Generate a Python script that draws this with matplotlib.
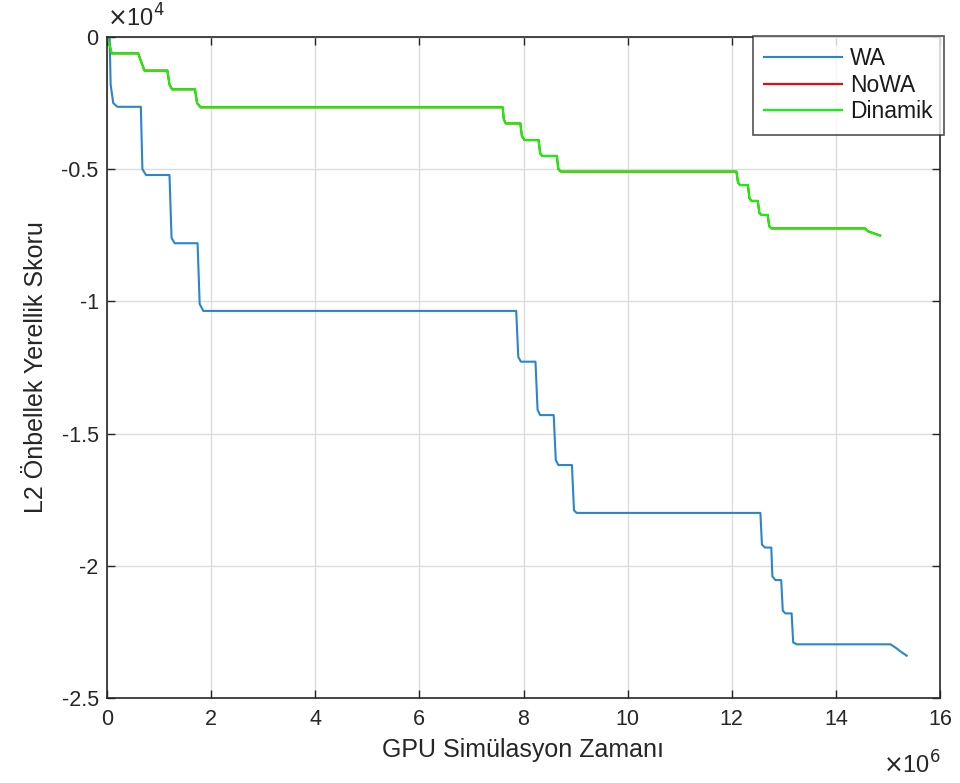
import numpy as np
import matplotlib
matplotlib.use('Agg')
import matplotlib.pyplot as plt
from matplotlib.ticker import FuncFormatter

# step curves: x in units of 1e6, y in units of 1e4
wa_x = [0, 0.05, 0.07, 0.12, 0.20, 0.65, 0.68, 0.75, 1.20, 1.24, 1.30, 1.74, 1.78, 1.85,
        7.86, 7.90, 7.95, 8.23, 8.27, 8.32, 8.58, 8.62, 8.67, 8.93, 8.97, 9.02,
        12.55, 12.58, 12.64, 12.76, 12.78, 12.84, 12.95, 12.98, 13.03, 13.15, 13.18, 13.25,
        15.05, 15.15, 15.25, 15.36]
wa_y = [0, 0, -0.18, -0.25, -0.264, -0.264, -0.50, -0.522, -0.522, -0.76, -0.78, -0.78, -1.01, -1.036,
        -1.036, -1.21, -1.228, -1.228, -1.41, -1.43, -1.43, -1.60, -1.619, -1.619, -1.79, -1.80,
        -1.80, -1.92, -1.931, -1.931, -2.04, -2.054, -2.054, -2.17, -2.18, -2.18, -2.29, -2.297,
        -2.297, -2.31, -2.325, -2.34]

din_x = [0, 0.05, 0.09, 0.60, 0.65, 0.72, 1.16, 1.20, 1.25, 1.69, 1.73, 1.80,
         7.60, 7.62, 7.66, 7.94, 7.97, 8.02, 8.29, 8.32, 8.36, 8.64, 8.67, 8.72,
         12.09, 12.12, 12.16, 12.31, 12.34, 12.38, 12.50, 12.53, 12.57, 12.69, 12.72, 12.76,
         14.56, 14.62, 14.72, 14.85]
din_y = [0, -0.03, -0.062, -0.062, -0.09, -0.127, -0.127, -0.18, -0.198, -0.198, -0.25, -0.266,
         -0.266, -0.31, -0.327, -0.327, -0.375, -0.39, -0.39, -0.44, -0.45, -0.45, -0.50, -0.509,
         -0.509, -0.55, -0.56, -0.56, -0.61, -0.62, -0.62, -0.665, -0.673, -0.673, -0.715, -0.724,
         -0.724, -0.735, -0.742, -0.751]

# NoWA is hidden under the Dinamik curve
nowa_x = list(din_x)
nowa_y = list(din_y)

x_ticks = [0, 2, 4, 6, 8, 10, 12, 14, 16]
y_ticks = [-2.5, -2, -1.5, -1, -0.5, 0]

plt.rcParams['font.family'] = ['Liberation Sans', 'DejaVu Sans']

fig = plt.figure(figsize=(9.6, 7.83), dpi=100)
ax = fig.add_axes([107 / 960, 1 - 698 / 783, (940 - 107) / 960, (698 - 37) / 783])

xs = 1e6
ys = 1e4
ax.plot(np.array(wa_x) * xs, np.array(wa_y) * ys, color='#2a86cc', lw=1.5, label='WA')
ax.plot(np.array(nowa_x) * xs, np.array(nowa_y) * ys, color='#FF0000', lw=1.5, label='NoWA')
ax.plot(np.array(din_x) * xs, np.array(din_y) * ys, color='#00FF00', lw=1.5, label='Dinamik')

ax.set_xlim(0, 16e6)
ax.set_ylim(-2.5e4, 0)
ax.set_xticks([t * xs for t in x_ticks])
ax.set_yticks([t * ys for t in y_ticks])
ax.xaxis.set_major_formatter(FuncFormatter(lambda v, p: '%g' % (v / xs)))
ax.yaxis.set_major_formatter(FuncFormatter(lambda v, p: '%g' % (v / ys)))

axc = '#262626'
for s in ax.spines.values():
    s.set_color(axc)
    s.set_linewidth(1.2)
ax.tick_params(direction='in', length=6, width=1, colors=axc, labelsize=15.5,
               top=True, right=True, pad=8)
ax.tick_params(axis='y', pad=6)
ax.grid(True, color='#dcdcdc', linewidth=1)
ax.set_axisbelow(True)

ax.set_xlabel('GPU Simülasyon Zamanı', fontsize=18, color=axc, labelpad=6)
ax.set_ylabel('L2 Önbellek Yerellik Skoru', fontsize=18, color=axc, labelpad=10)

fig.text(107 / 960, 1 - 18 / 783, r'$\times$10$^4$', fontsize=17, color=axc, va='center', ha='left')
fig.text(941 / 960, 1 - 765 / 783, r'$\times$10$^6$', fontsize=17, color=axc, va='center', ha='right')

leg = ax.legend(loc='upper right', fontsize=16.5, frameon=True, fancybox=False,
                borderaxespad=0.0, handlelength=3.4, handletextpad=0.35,
                labelspacing=0.15, borderpad=0.5,
                bbox_to_anchor=(944 / 960, 1 - 36 / 783), bbox_transform=fig.transFigure)
leg.get_frame().set_edgecolor(axc)
leg.get_frame().set_linewidth(1.2)
for t in leg.get_texts():
    t.set_color('#1a1a1a')

fig.savefig('out.png', dpi=100)
